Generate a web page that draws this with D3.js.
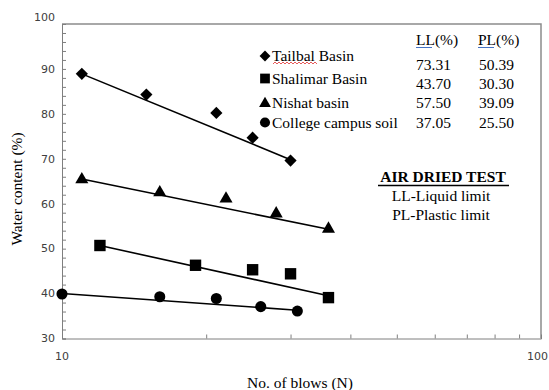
<!DOCTYPE html>
<html>
<head>
<meta charset="utf-8">
<script src="https://cdn.jsdelivr.net/npm/d3@7"></script>
<style>
  body { margin: 0; background: #fff; }
</style>
</head>
<body>
<script>
/* -----------------------------------------------------
 *  Data
 ----------------------------------------------------- */
const seriesNames = ["Tailbal Basin", "Shalimar Basin", "Nishat basin", "College campus soil"];
const seriesShapes = ["diamond", "square", "triangle", "circle"];

const blowsTailbal = [11, 15, 21, 25, 30];
const waterTailbal = [88.9, 84.3, 80.2, 74.7, 69.6];
const blowsShalimar = [12, 19, 25, 30, 36];
const waterShalimar = [50.7, 46.3, 45.3, 44.4, 39.1];
const blowsNishat = [11, 16, 22, 28, 36];
const waterNishat = [65.4, 62.5, 61.1, 57.8, 54.4];
const blowsCollege = [10, 16, 21, 26, 31];
const waterCollege = [39.9, 39.3, 38.9, 37.1, 36.1];

// trend line values at first and last blow count
const trendTailbal = [88.9, 69.8];
const trendShalimar = [50.7, 39.5];
const trendNishat = [65.5, 54.3];
const trendCollege = [40.0, 36.3];

const liquidLimit = ["73.31", "43.70", "57.50", "37.05"];
const plasticLimit = ["50.39", "30.30", "39.09", "25.50"];

const yTicks = [30, 40, 50, 60, 70, 80, 90, 100];
const xTickLabels = [10, 100];

/* -----------------------------------------------------
 *  SVG setup
 ----------------------------------------------------- */
const width = 549;
const height = 390;
const serif = "'Liberation Serif', 'Times New Roman', serif";

const svg = d3
  .select("body")
  .append("svg")
  .attr("width", width)
  .attr("height", height);

const x = d3.scaleLog().domain([10, 100]).range([62, 541]);
const y = d3.scaleLinear().domain([30, 100]).range([338.5, 24]);

const symbolFor = {
  diamond: (s) => d3.symbol().type(d3.symbolSquare).size(s * 0.62)(),
  square: (s) => d3.symbol().type(d3.symbolSquare).size(s)(),
  triangle: (s) => d3.symbol().type(d3.symbolTriangle).size(s * 0.55)(),
  circle: (s) => d3.symbol().type(d3.symbolCircle).size(s * 0.8)(),
};

/* -----------------------------------------------------
 *  Frame and axes
 ----------------------------------------------------- */
svg
  .append("path")
  .attr("d", `M${x(10)},${y(100)}H${x(100)}V${y(30)}`)
  .attr("fill", "none")
  .attr("stroke", "#8c8c8c")
  .attr("stroke-width", 1.5);

const yAxis = d3
  .axisLeft(y)
  .tickValues(d3.range(30, 101, 2))
  .tickSize(-4)
  .tickFormat("");
svg
  .append("g")
  .attr("transform", `translate(${x(10)},0)`)
  .call(yAxis)
  .call((g) => g.selectAll("line,path").attr("stroke", "#7f7f7f"));

svg
  .selectAll(".ytick")
  .data(yTicks)
  .enter()
  .append("text")
  .attr("class", "ytick")
  .attr("x", 55)
  .attr("y", (d) => (d === 100 ? y(d) - 7 : y(d)))
  .attr("dy", "0.35em")
  .attr("text-anchor", "end")
  .style("font-family", "'DejaVu Sans', Verdana, sans-serif")
  .style("font-size", "11px")
  .style("fill", "#404040")
  .text((d) => d);

const xAxis = d3
  .axisBottom(x)
  .tickValues(d3.range(20, 100, 10))
  .tickSize(-4)
  .tickFormat("");
svg
  .append("g")
  .attr("transform", `translate(0,${y(30)})`)
  .call(xAxis)
  .call((g) => g.selectAll("line,path").attr("stroke", "#7f7f7f"));

svg
  .selectAll(".xtick")
  .data(xTickLabels)
  .enter()
  .append("text")
  .attr("class", "xtick")
  .attr("x", (d) => (d === 100 ? 548 : x(d)))
  .attr("y", 360)
  .attr("text-anchor", (d) => (d === 100 ? "end" : "middle"))
  .style("font-family", "'DejaVu Sans', Verdana, sans-serif")
  .style("font-size", "11px")
  .style("fill", "#404040")
  .text((d) => d);

svg
  .append("text")
  .attr("transform", "translate(22,189) rotate(-90)")
  .attr("text-anchor", "middle")
  .style("font-family", serif)
  .style("font-size", "15.5px")
  .text("Water content (%)");

svg
  .append("text")
  .attr("x", 300)
  .attr("y", 388)
  .attr("text-anchor", "middle")
  .style("font-family", serif)
  .style("font-size", "15.5px")
  .text("No. of blows (N)");

/* -----------------------------------------------------
 *  Series: trend lines and markers
 ----------------------------------------------------- */
const series = [
  { shape: "diamond", n: blowsTailbal, w: waterTailbal, trend: trendTailbal, size: 120 },
  { shape: "triangle", n: blowsNishat, w: waterNishat, trend: trendNishat, size: 135 },
  { shape: "square", n: blowsShalimar, w: waterShalimar, trend: trendShalimar, size: 130 },
  { shape: "circle", n: blowsCollege, w: waterCollege, trend: trendCollege, size: 120 },
];

series.forEach((s) => {
  const ends = [
    [s.n[0], s.trend[0]],
    [s.n[s.n.length - 1], s.trend[1]],
  ];
  svg
    .append("path")
    .attr("d", d3.line().x((d) => x(d[0])).y((d) => y(d[1]))(ends))
    .attr("stroke", "#000")
    .attr("stroke-width", 1.6)
    .attr("fill", "none");

  svg
    .selectAll(null)
    .data(s.n.map((n, i) => [n, s.w[i]]))
    .enter()
    .append("path")
    .attr("d", symbolFor[s.shape](s.size))
    .attr(
      "transform",
      (d) => `translate(${x(d[0])},${y(d[1])})` + (s.shape === "diamond" ? " rotate(45)" : "")
    )
    .attr("fill", "#000");
});

/* -----------------------------------------------------
 *  Legend and limits table
 ----------------------------------------------------- */
const legendY = [56, 78.5, 102.5, 122.5];
const tableY = [65, 84, 103, 122.5];
const legendSize = [95, 95, 110, 100];

seriesNames.forEach((name, i) => {
  const shape = seriesShapes[i];
  svg
    .append("path")
    .attr("d", symbolFor[shape](legendSize[i]))
    .attr(
      "transform",
      `translate(265,${legendY[i] + (shape === "triangle" ? 1 : 0)})` + (shape === "diamond" ? " rotate(45)" : "")
    )
    .attr("fill", "#000");
  svg
    .append("text")
    .attr("x", 272)
    .attr("y", legendY[i] + 5)
    .style("font-family", serif)
    .style("font-size", "15.5px")
    .text(name);
  svg
    .append("text")
    .attr("x", 416)
    .attr("y", tableY[i] + 5)
    .style("font-family", serif)
    .style("font-size", "15.5px")
    .text(liquidLimit[i]);
  svg
    .append("text")
    .attr("x", 479)
    .attr("y", tableY[i] + 5)
    .style("font-family", serif)
    .style("font-size", "15.5px")
    .text(plasticLimit[i]);
});

// spell-check squiggle under "Tailbal"
const squiggle = d3.range(273, 319, 2).map((px, i) => [px, i % 2 ? 62 : 64]);
svg
  .append("path")
  .attr("d", d3.line()(squiggle))
  .attr("stroke", "#e03030")
  .attr("stroke-width", 0.8)
  .attr("fill", "none");

["LL(%)", "PL(%)"].forEach((h, i) => {
  const hx = i === 0 ? 416 : 478;
  svg
    .append("text")
    .attr("x", hx)
    .attr("y", 45)
    .style("font-family", serif)
    .style("font-size", "15.5px")
    .text(h);
  svg
    .append("line")
    .attr("x1", hx)
    .attr("x2", hx + 16)
    .attr("y1", 47.5)
    .attr("y2", 47.5)
    .attr("stroke", "#4472c4")
    .attr("stroke-width", 1);
});

svg
  .append("text")
  .attr("x", 443)
  .attr("y", 182)
  .attr("text-anchor", "middle")
  .style("font-family", serif)
  .style("font-size", "15.5px")
  .style("font-weight", "bold")
  .text("AIR DRIED TEST");
svg
  .append("line")
  .attr("x1", 378)
  .attr("x2", 509)
  .attr("y1", 185.5)
  .attr("y2", 185.5)
  .attr("stroke", "#000")
  .attr("stroke-width", 1.5);

svg
  .append("text")
  .attr("x", 441)
  .attr("y", 201)
  .attr("text-anchor", "middle")
  .style("font-family", serif)
  .style("font-size", "15.5px")
  .text("LL-Liquid limit");
svg
  .append("text")
  .attr("x", 441)
  .attr("y", 220)
  .attr("text-anchor", "middle")
  .style("font-family", serif)
  .style("font-size", "15.5px")
  .text("PL-Plastic limit");
</script>
</body>
</html>
